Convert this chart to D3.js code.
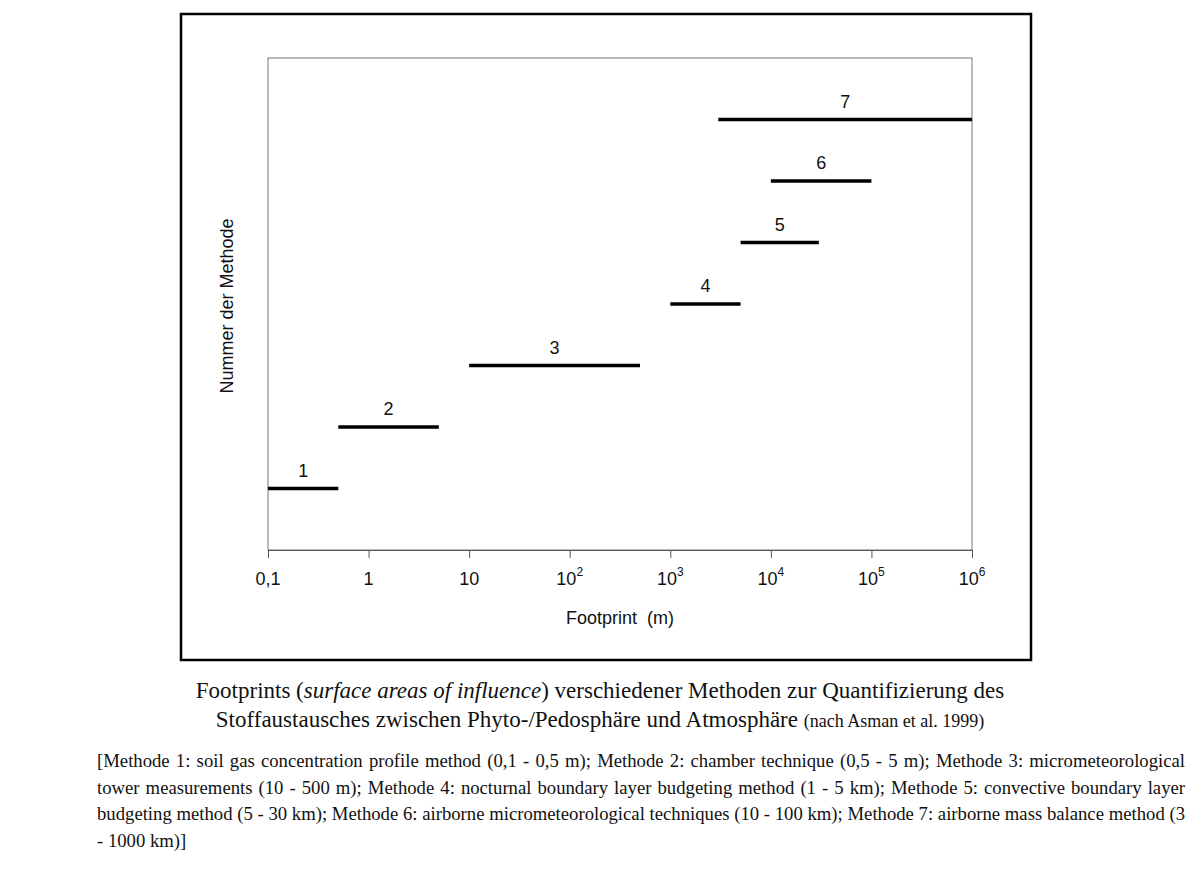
<!DOCTYPE html>
<html><head><meta charset="utf-8">
<script src="https://cdn.jsdelivr.net/npm/d3@7"></script>
<style>
body{margin:0;background:#fff;}
.cap{font-family:"Liberation Serif","Times New Roman",serif;color:#111;}
</style></head>
<body>
<svg id="chart" width="1200" height="877" style="position:absolute;left:0;top:0"></svg>
<script>
// Methods and their footprint ranges (m)
const methods = [1, 2, 3, 4, 5, 6, 7];
const rangeStart = [0.1, 0.5, 10, 1000, 5000, 10000, 3000];
const rangeEnd = [0.5, 5, 500, 5000, 30000, 100000, 1000000];
const tickValues = [0.1, 1, 10, 100, 1000, 10000, 100000, 1000000];
const tickLabels = ["0,1", "1", "10", "10|2", "10|3", "10|4", "10|5", "10|6"];

const svg = d3.select("#chart");
const font = "'Liberation Sans', Arial, sans-serif";

// outer frame
svg.append("rect").attr("x", 181).attr("y", 14).attr("width", 850).attr("height", 646)
  .attr("fill", "none").attr("stroke", "#000").attr("stroke-width", 2.5);

const pLeft = 268, pRight = 972, pTop = 58, pBottom = 550;
const x = d3.scaleLog().domain([0.1, 1e6]).range([pLeft, pRight]);
const y = d3.scaleLinear().domain([0, 8]).range([pBottom, pTop]);

// plot box
svg.append("rect").attr("x", pLeft).attr("y", pTop).attr("width", pRight - pLeft).attr("height", pBottom - pTop)
  .attr("fill", "none").attr("stroke", "#777").attr("stroke-width", 1);

const ax = svg.append("g").attr("transform", `translate(0,${pBottom})`)
  .call(d3.axisBottom(x).tickValues(tickValues).tickSize(8).tickFormat(""));
ax.select(".domain").attr("stroke", "#555");
ax.selectAll(".tick line").attr("stroke", "#555");

tickValues.forEach((v, i) => {
  const [base, exp] = tickLabels[i].split("|");
  const t = svg.append("text").attr("x", x(v)).attr("y", 585).attr("text-anchor", "middle")
    .attr("font-family", font).attr("font-size", 18).attr("fill", "#111");
  t.append("tspan").text(base);
  if (exp) t.append("tspan").attr("dy", -9).attr("font-size", 12).text(exp);
});

svg.append("text").attr("x", 620).attr("y", 624).attr("text-anchor", "middle")
  .attr("font-family", font).attr("font-size", 18).attr("fill", "#111")
  .attr("xml:space", "preserve").text("Footprint  (m)");

svg.append("text").attr("transform", `translate(233,${(pTop + pBottom) / 2 + 2}) rotate(-90)`)
  .attr("text-anchor", "middle").attr("font-family", font).attr("font-size", 18).attr("fill", "#111")
  .text("Nummer der Methode");

// bars
svg.selectAll(".bar").data(methods).enter().append("line")
  .attr("x1", (d, i) => x(rangeStart[i])).attr("x2", (d, i) => x(rangeEnd[i]))
  .attr("y1", d => y(d)).attr("y2", d => y(d))
  .attr("stroke", "#000").attr("stroke-width", 3.5);

svg.selectAll(".lab").data(methods).enter().append("text")
  .attr("x", (d, i) => x(Math.sqrt(rangeStart[i] * rangeEnd[i])))
  .attr("y", d => y(d) - 12).attr("text-anchor", "middle")
  .attr("font-family", font).attr("font-size", 18).attr("fill", "#111").text(d => d);
</script>
<div class="cap" style="position:absolute;left:0;top:676px;width:1200px;text-align:center;font-size:23px;line-height:29px;">
Footprints (<i>surface areas of influence</i>) verschiedener Methoden zur Quantifizierung des<br>
Stoffaustausches zwischen Phyto-/Pedosphäre und Atmosphäre <span style="font-size:18px">(nach Asman et al. 1999)</span>
</div>
<div class="cap" style="position:absolute;left:97px;top:748px;width:1088px;text-align:justify;font-size:18.7px;line-height:26.5px;">
[Methode 1: soil gas concentration profile method (0,1 - 0,5 m); Methode 2: chamber technique (0,5 - 5 m); Methode 3: micrometeorological tower measurements (10 - 500 m); Methode 4: nocturnal boundary layer budgeting method (1 - 5 km); Methode 5: convective boundary layer budgeting method (5 - 30 km); Methode 6: airborne micrometeorological techniques (10 - 100 km); Methode 7: airborne mass balance method (3 - 1000 km)]
</div>
</body></html>
